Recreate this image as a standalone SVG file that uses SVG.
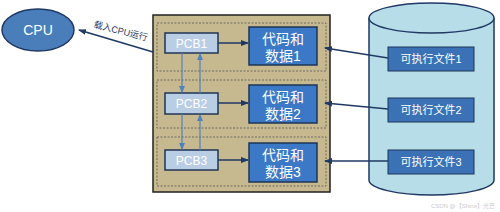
<svg xmlns="http://www.w3.org/2000/svg" width="500" height="212" viewBox="0 0 500 212">
<defs>
<style>
text{font-family:"Liberation Sans","Noto Sans CJK SC",sans-serif;}
.w{fill:#fff;}
.pcb{fill:#b9cde5;stroke:#1f3455;stroke-width:1.5;}
.code{fill:#3b78c6;stroke:#1f3455;stroke-width:1.5;}
.file{fill:#3b72b6;stroke:#1f3455;stroke-width:1;}
.dash{fill:none;stroke:#555;stroke-width:0.8;stroke-dasharray:2,1.5;}
.dk{stroke:#1f3864;stroke-width:1.5;fill:none;marker-end:url(#ad);}
.lt{stroke:#4f81bd;stroke-width:1.2;fill:none;marker-end:url(#al);}
</style>
<marker id="ad" markerWidth="8" markerHeight="6" refX="7" refY="3" orient="auto" markerUnits="userSpaceOnUse"><path d="M0,0L8,3L0,6z" fill="#1f3864"/></marker>
<marker id="al" markerWidth="7" markerHeight="6" refX="6" refY="3" orient="auto" markerUnits="userSpaceOnUse"><path d="M0,0L7,3L0,6z" fill="#4f81bd"/></marker>
</defs>
<rect width="500" height="212" fill="#fff"/>
<g id="cpu">
<ellipse cx="38" cy="30" rx="36" ry="21" fill="#4a7ebb" stroke="#1f3864" stroke-width="1.5"/>
<text x="38" y="35" class="w" font-size="14" text-anchor="middle">CPU</text>
</g>
<g id="memory">
<rect x="153" y="15" width="177" height="177" fill="#c6b98f" stroke="#222" stroke-width="1.5"/>
<rect x="157" y="23" width="169" height="48" class="dash"/>
<rect x="157" y="80" width="169" height="48" class="dash"/>
<rect x="157" y="137" width="169" height="49" class="dash"/>
</g>
<g id="pcb1"><rect x="165" y="33" width="53" height="20" class="pcb"/><text x="191.5" y="48" class="w" font-size="12" text-anchor="middle">PCB1</text></g>
<g id="pcb2"><rect x="165" y="93" width="53" height="21" class="pcb"/><text x="191.5" y="108" class="w" font-size="12" text-anchor="middle">PCB2</text></g>
<g id="pcb3"><rect x="165" y="150" width="53" height="20" class="pcb"/><text x="191.5" y="165" class="w" font-size="12" text-anchor="middle">PCB3</text></g>
<g id="code1"><rect x="249" y="27" width="68" height="38" class="code"/><text x="283" y="44" class="w" font-size="14" text-anchor="middle">代码和</text><text x="283" y="61" class="w" font-size="14" text-anchor="middle">数据1</text></g>
<g id="code2"><rect x="249" y="85" width="68" height="38" class="code"/><text x="283" y="102" class="w" font-size="14" text-anchor="middle">代码和</text><text x="283" y="119" class="w" font-size="14" text-anchor="middle">数据2</text></g>
<g id="code3"><rect x="249" y="143" width="68" height="39" class="code"/><text x="283" y="160" class="w" font-size="14" text-anchor="middle">代码和</text><text x="283" y="177" class="w" font-size="14" text-anchor="middle">数据3</text></g>
<g id="disk">
<path d="M369,18 L369,180 A62.5,15 0 0 0 494,180 L494,18" fill="#b7dde8" stroke="#1f3864" stroke-width="1.5"/>
<ellipse cx="431.5" cy="18" rx="62.5" ry="15" fill="#b7dde8" stroke="#1f3864" stroke-width="1.5"/>
</g>
<g id="file1"><rect x="388" y="47" width="86" height="24" class="file"/><text x="431" y="63" class="w" font-size="11" text-anchor="middle">可执行文件1</text></g>
<g id="file2"><rect x="388" y="98" width="86" height="24" class="file"/><text x="431" y="114" class="w" font-size="11" text-anchor="middle">可执行文件2</text></g>
<g id="file3"><rect x="388" y="150" width="86" height="24" class="file"/><text x="431" y="166" class="w" font-size="11" text-anchor="middle">可执行文件3</text></g>
<g id="connectors">
<line x1="153" y1="52" x2="79" y2="30" class="dk"/>
<line x1="218" y1="43" x2="248" y2="43" class="dk"/>
<line x1="218" y1="103" x2="248" y2="103" class="dk"/>
<line x1="218" y1="160" x2="248" y2="160" class="dk"/>
<line x1="182" y1="53" x2="182" y2="92" class="lt"/>
<line x1="200" y1="93" x2="200" y2="54" class="lt"/>
<line x1="182" y1="114" x2="182" y2="149" class="lt"/>
<line x1="200" y1="150" x2="200" y2="115" class="lt"/>
<line x1="388" y1="58" x2="325" y2="48" class="dk"/>
<line x1="388" y1="109" x2="325" y2="103" class="dk"/>
<line x1="388" y1="161" x2="325" y2="161" class="dk"/>
<text x="120" y="34" font-size="9" fill="#1f3864" text-anchor="middle" transform="rotate(14 120 34)">载入CPU运行</text>
</g>
<text x="495" y="208" font-size="6" fill="#cccccc" text-anchor="end">CSDN @【Shine】光芒</text>
</svg>
